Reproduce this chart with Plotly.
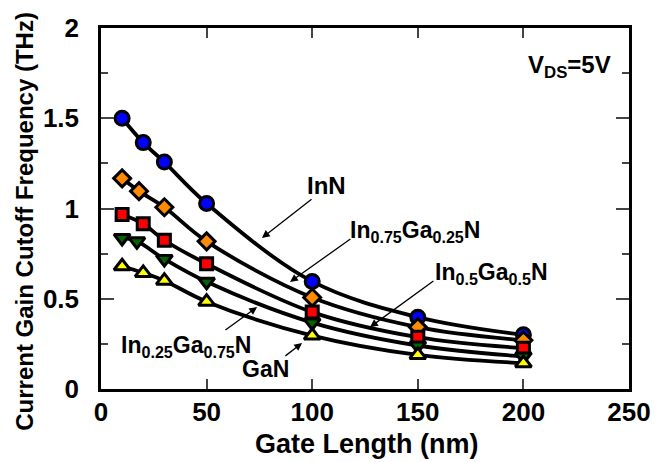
import plotly.graph_objects as go

# ---- data ----
x_inn = [10, 20, 30, 50, 100, 150, 200]
y_inn = [1.50, 1.365, 1.257, 1.028, 0.596, 0.398, 0.300]

x_in75 = [10, 18, 30, 50, 100, 150, 200]
y_in75 = [1.167, 1.096, 1.007, 0.818, 0.507, 0.343, 0.270]

x_in50 = [10, 20, 30, 50, 100, 150, 200]
y_in50 = [0.967, 0.915, 0.824, 0.694, 0.426, 0.287, 0.226]

x_in25 = [10, 17, 30, 50, 100, 150, 200]
y_in25 = [0.837, 0.818, 0.720, 0.594, 0.368, 0.241, 0.180]

x_gan = [10, 20, 30, 50, 100, 150, 200]
y_gan = [0.680, 0.643, 0.600, 0.484, 0.296, 0.189, 0.143]

series = [
    ("InN", x_inn, y_inn, "circle", "#0000ff", 14),
    ("In0.75Ga0.25N", x_in75, y_in75, "diamond", "#ff8c00", 13),
    ("In0.5Ga0.5N", x_in50, y_in50, "square", "#ff0000", 12),
    ("In0.25Ga0.75N", x_in25, y_in25, "triangle-down", "#006400", 14),
    ("GaN", x_gan, y_gan, "triangle-up", "#ffff00", 14),
]

x_ticks = [0, 50, 100, 150, 200, 250]
y_ticks = [0, 0.5, 1, 1.5, 2]

x_title = "Gate Length (nm)"
y_title = "Current Gain Cutoff Frequency (THz)"

FONT = "Liberation Sans, Arial, sans-serif"

fig = go.Figure()
for name, xs, ys, sym, col, sz in series:
    fig.add_trace(go.Scatter(x=xs, y=ys, mode="lines", name=name,
                             line=dict(color="black", width=3.8, shape="spline", smoothing=1.0),
                             showlegend=False, hoverinfo="skip"))
for name, xs, ys, sym, col, sz in series:
    fig.add_trace(go.Scatter(x=xs, y=ys, mode="markers", name=name,
                             marker=dict(symbol=sym, color=col, size=sz,
                                         line=dict(color="black", width=3)),
                             showlegend=False))

# arrows (tip x,y ; tail ax,ay in data coords)
arrows = [
    (76.2, 0.837, 100.4, 1.058),
    (89.5, 0.593, 118.8, 0.837),
    (127.4, 0.343, 158.1, 0.604),
    (73.9, 0.454, 58.2, 0.321),
    (95.2, 0.255, 86.6, 0.177),
]
for (x, y, ax, ay) in arrows:
    fig.add_annotation(x=x, y=y, ax=ax, ay=ay, xref="x", yref="y", axref="x", ayref="y",
                       text="", showarrow=True, arrowhead=2, arrowsize=1.2,
                       arrowwidth=1.3, arrowcolor="black")

labels = [
    (107, 1.125, "InN", 24),
    (148.7, 0.875, "In<sub>0.75</sub>Ga<sub>0.25</sub>N", 23),
    (185.1, 0.642, "In<sub>0.5</sub>Ga<sub>0.5</sub>N", 23),
    (40.2, 0.238, "In<sub>0.25</sub>Ga<sub>0.75</sub>N", 23),
    (78.1, 0.111, "GaN", 23),
    (222, 1.785, "V<sub>DS</sub>=5V", 24),
]
for (x, y, t, fs) in labels:
    fig.add_annotation(x=x, y=y, xref="x", yref="y", text=t, showarrow=False,
                       font=dict(family=FONT, size=fs, color="black", weight="bold"))

# axis titles as paper-anchored annotations
fig.add_annotation(x=0.504, y=-0.152, xref="paper", yref="paper", text=x_title,
                   showarrow=False, xanchor="center", yanchor="middle",
                   font=dict(family=FONT, size=27, color="black", weight="bold"))
fig.add_annotation(x=-0.144, y=0.466, xref="paper", yref="paper", text=y_title,
                   showarrow=False, textangle=-90, xanchor="center", yanchor="middle",
                   font=dict(family=FONT, size=24, color="black", weight="bold"))

fig.update_xaxes(range=[0, 250], tickvals=x_ticks, ticks="inside", ticklen=10, tickwidth=2,
                 showline=True, linewidth=2.5, linecolor="black", mirror="ticks",
                 showgrid=False, zeroline=False, automargin=False,
                 tickfont=dict(family=FONT, size=26, color="black", weight="bold"),
                 ticklabelstandoff=-2)
fig.update_yaxes(range=[0, 2], tickvals=y_ticks, ticks="inside", ticklen=13, tickwidth=2,
                 showline=True, linewidth=2.5, linecolor="black", mirror="ticks",
                 showgrid=False, zeroline=False, automargin=False,
                 minor=dict(dtick=0.25, ticks="inside", ticklen=7, tickwidth=2, showgrid=False),
                 tickfont=dict(family=FONT, size=26, color="black", weight="bold"),
                 ticklabelstandoff=14)

# page body has an 8px default margin, so the figure is sized/offset to compensate
fig.update_layout(width=661, height=454, margin=dict(l=93, r=40, t=20, b=73),
                  plot_bgcolor="white", paper_bgcolor="white", showlegend=False)

fig.write_html("out.html")
